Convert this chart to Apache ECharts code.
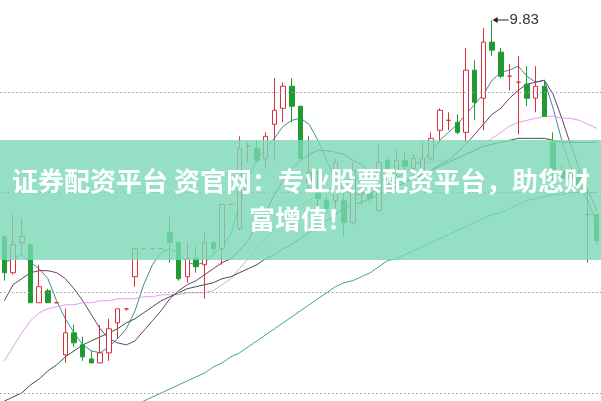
<!DOCTYPE html>
<html><head><meta charset="utf-8">
<script src="https://cdn.jsdelivr.net/npm/echarts@6/dist/echarts.min.js"></script>
<style>html,body{margin:0;padding:0;background:#fff}#c{width:601px;height:401px}</style>
</head><body><div id="c"></div>
<script>
const openP  = [8.75,8.57,8.72,8.71,8.42,8.48,8.42,8.16,8.27,8.21,8.14,8.12,8.17,8.32,8.39,8.55,8.69,8.69,8.69,8.77,8.72,8.55,8.64,8.61,8.72,8.69,8.91,8.79,9.20,9.19,9.14,9.31,9.39,9.50,9.40,9.02,8.97,8.93,8.93,8.93,8.82,8.96,8.97,8.88,9.13,9.08,9.13,9.09,9.08,9.14,9.28,9.33,9.32,9.27,9.58,9.44,9.72,9.67,9.55,9.52,9.51,9.44,9.50,9.22,9.08,9.04,9.06,8.86,8.86];
const closeP = [8.57,8.71,8.75,8.42,8.50,8.42,8.42,8.27,8.22,8.15,8.12,8.17,8.29,8.39,8.39,8.69,8.69,8.69,8.69,8.72,8.54,8.64,8.60,8.72,8.69,8.91,8.91,9.19,9.20,9.13,9.25,9.38,9.50,9.40,9.14,9.07,8.94,8.89,9.12,8.82,9.08,8.97,8.94,9.12,9.09,9.13,9.10,9.14,9.14,9.24,9.38,9.33,9.27,9.58,9.42,9.72,9.68,9.55,9.55,9.52,9.44,9.50,9.35,9.08,9.04,9.06,9.00,8.86,8.73];
const lowP   = [8.53,8.56,8.66,8.42,8.42,8.42,8.42,8.12,8.20,8.13,8.12,8.12,8.13,8.24,8.38,8.50,8.69,8.69,8.69,8.62,8.53,8.52,8.57,8.44,8.67,8.61,8.91,8.78,9.12,9.12,9.09,9.13,9.32,9.32,9.13,8.97,8.90,8.87,8.89,8.75,8.81,8.91,8.92,8.87,9.07,9.05,9.07,9.04,9.01,9.13,9.22,9.28,9.26,9.22,9.33,9.28,9.65,9.54,9.48,9.26,9.40,9.37,9.35,8.97,9.02,9.00,8.98,8.62,8.71];
const highP  = [8.75,8.86,8.84,8.71,8.61,8.49,8.42,8.39,8.31,8.25,8.18,8.31,8.34,8.39,8.39,8.69,8.69,8.69,8.69,8.85,8.72,8.72,8.70,8.77,8.73,8.91,8.91,9.25,9.22,9.23,9.27,9.54,9.52,9.54,9.40,9.25,9.08,8.95,9.14,8.97,9.12,9.00,9.00,9.21,9.14,9.18,9.17,9.16,9.22,9.27,9.39,9.37,9.36,9.69,9.63,9.79,9.83,9.69,9.61,9.65,9.60,9.60,9.53,9.27,9.10,9.08,9.08,8.98,8.86];

const ma5  = [8.62,8.64,8.66,8.62,8.59,8.54,8.43,8.34,8.27,8.21,8.18,8.17,8.20,8.24,8.29,8.38,8.51,8.61,8.67,8.69,8.67,8.62,8.61,8.62,8.66,8.70,8.76,8.91,9.04,9.13,9.19,9.24,9.30,9.33,9.34,9.31,9.23,9.13,9.04,8.98,8.96,8.96,8.97,8.98,9.01,9.04,9.07,9.11,9.13,9.17,9.23,9.27,9.31,9.36,9.41,9.46,9.53,9.57,9.58,9.60,9.55,9.52,9.53,9.39,9.23,9.10,9.01,8.93,8.81];
const ma10 = [8.43,8.51,8.54,8.57,8.58,8.58,8.57,8.54,8.49,8.43,8.36,8.29,8.24,8.22,8.21,8.23,8.28,8.33,8.38,8.44,8.48,8.51,8.53,8.56,8.59,8.62,8.64,8.68,8.73,8.81,8.87,8.96,9.03,9.09,9.13,9.16,9.18,9.18,9.17,9.16,9.13,9.11,9.07,9.04,9.03,9.02,9.03,9.04,9.06,9.08,9.11,9.13,9.17,9.21,9.26,9.31,9.36,9.39,9.44,9.48,9.51,9.52,9.53,9.46,9.34,9.21,9.09,8.98,8.88];
const ma20 = [8.13,8.20,8.27,8.33,8.37,8.39,8.40,8.41,8.41,8.42,8.42,8.43,8.43,8.44,8.44,8.44,8.45,8.45,8.46,8.46,8.46,8.47,8.47,8.47,8.48,8.51,8.54,8.59,8.64,8.69,8.74,8.79,8.83,8.87,8.91,8.93,8.96,8.98,9.00,9.02,9.03,9.05,9.06,9.08,9.09,9.10,9.11,9.11,9.12,9.12,9.13,9.13,9.14,9.16,9.18,9.21,9.24,9.27,9.30,9.32,9.33,9.34,9.35,9.35,9.34,9.34,9.33,9.31,9.29];
const ma30 = [7.93,7.95,7.97,8.01,8.04,8.08,8.11,8.15,8.18,8.21,8.23,8.25,8.27,8.29,8.32,8.34,8.37,8.40,8.43,8.45,8.47,8.49,8.50,8.51,8.52,8.54,8.55,8.57,8.59,8.61,8.64,8.66,8.69,8.71,8.74,8.77,8.80,8.83,8.86,8.89,8.91,8.92,8.94,8.96,8.98,9.00,9.02,9.04,9.06,9.08,9.10,9.12,9.14,9.16,9.18,9.20,9.21,9.22,9.23,9.24,9.24,9.24,9.24,9.23,9.22,9.22,9.22,9.22,9.22];
const ma60 = [null,null,null,null,null,null,null,null,null,null,null,null,null,null,null,7.91,7.93,7.95,7.97,7.99,8.01,8.03,8.05,8.07,8.10,8.12,8.15,8.17,8.20,8.23,8.26,8.29,8.32,8.35,8.38,8.41,8.44,8.47,8.50,8.52,8.53,8.55,8.57,8.60,8.63,8.64,8.66,8.68,8.70,8.72,8.74,8.76,8.78,8.80,8.82,8.84,8.86,8.87,8.89,8.91,8.93,8.94,8.95,8.96,8.96,8.97,8.97,8.97,8.97];

const gridLevels = [9.47, 8.97, 8.47, 7.97];
const highLabel = '9.83';
const bannerLine1 = '证券配资平台 资官网：专业股票配资平台，助您财';
const bannerLine2 = '富增值！';

const categories = openP.map((_, i) => 'D' + (i + 1));
const kdata = openP.map((o, i) => [o, closeP[i], lowP[i], highP[i]]);
const hiIdx = highP.indexOf(Math.max.apply(null, highP));

const RED = '#D3323D', GREEN = '#1F9B31';
function ma(name, data, color) {
  return { name, type: 'line', data, symbol: 'none', smooth: false, silent: true,
    lineStyle: { color, width: 1 }, z: 3, connectNulls: false };
}

const chart = echarts.init(document.getElementById('c'), null, { renderer: 'canvas' });
chart.setOption({
  animation: false,
  backgroundColor: '#fff',
  grid: { left: 0, right: -2, top: 0, bottom: 0 },
  xAxis: { type: 'category', data: categories, boundaryGap: true, show: false },
  yAxis: { type: 'value', min: 7.93, max: 9.93, show: false, splitLine: { show: false } },
  series: [
    { name: 'K', type: 'candlestick', data: kdata, barWidth: 5, z: 4,
      itemStyle: { color: '#fff', color0: GREEN, borderColor: RED, borderColor0: GREEN, borderColorDoji: RED, borderWidth: 1 },
      markLine: { silent: true, symbol: 'none', label: { show: false },
        lineStyle: { color: '#9a9a9a', type: [1.5, 2.5], width: 1 },
        data: gridLevels.map(v => ({ yAxis: v })) },
      markPoint: { silent: true, data: [{ coord: [hiIdx, highP[hiIdx]],
        symbol: 'path://M0,4 L5,0 L5,3.4 L16,3.4 L16,4.6 L5,4.6 L5,8 Z', symbolSize: [16, 6], symbolOffset: [8.5, 0],
        itemStyle: { color: '#222' },
        label: { show: true, position: 'right', distance: 1, formatter: highLabel, color: '#333', fontSize: 15, fontFamily: 'Arial' } }] }
    },
    ma('MA5', ma5, '#3F8C9E'),
    ma('MA10', ma10, '#6E3D70'),
    ma('MA20', ma20, '#E49CE8'),
    ma('MA30', ma30, '#33583A'),
    ma('MA60', ma60, '#3FA0A6')
  ],
  graphic: [
    { type: 'rect', shape: { x: 0, y: 140, width: 601, height: 120 }, style: { fill: 'rgba(122,216,182,0.8)' }, z: 100, silent: true },
    { type: 'text', x: 301, y: 181, z: 101, silent: true,
      style: { text: bannerLine1, fill: '#fff', font: 'bold 26px "Noto Sans CJK SC"', align: 'center', verticalAlign: 'middle' } },
    { type: 'text', x: 301, y: 219, z: 101, silent: true,
      style: { text: bannerLine2, fill: '#fff', font: 'bold 26px "Noto Sans CJK SC"', align: 'center', verticalAlign: 'middle' } }
  ]
});
</script></body></html>
